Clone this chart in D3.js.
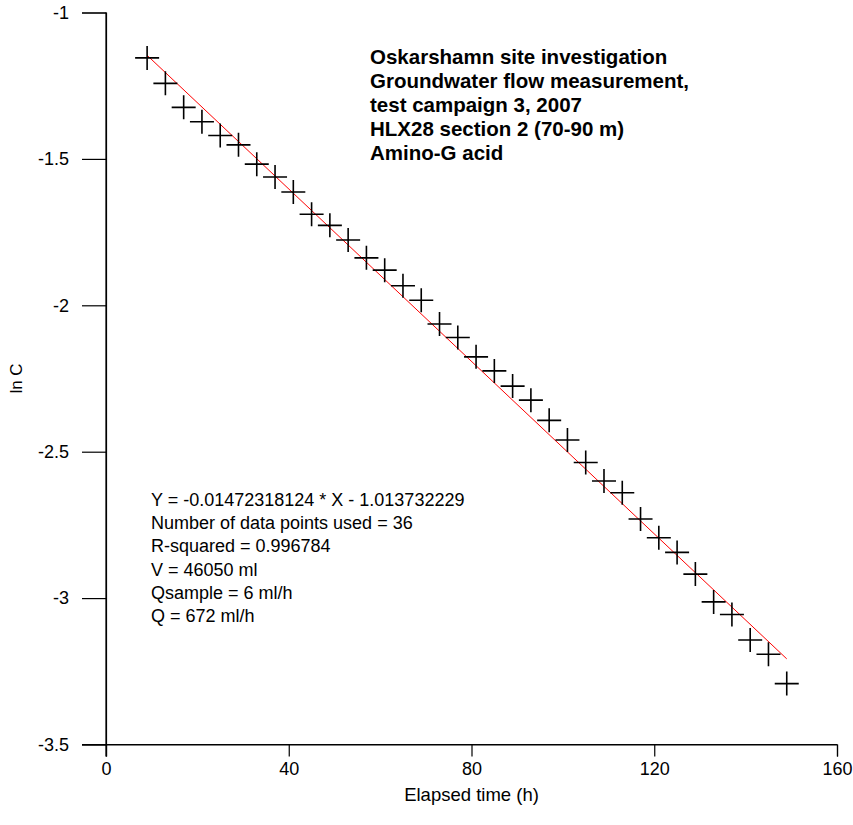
<!DOCTYPE html>
<html><head><meta charset="utf-8">
<script src="https://cdn.jsdelivr.net/npm/d3@7"></script>
<style>
body{margin:0;background:#fff}
svg{display:block}
text{font-family:"Liberation Sans",Arial,sans-serif;fill:#000}
</style>
</head><body>
<script>
// ---- data ----
const elapsedHours = [9,13,17,21,25,29,33,37,41,45,49,53,57,61,65,69,73,77,81,85,89,93,97,101,105,109,113,117,121,125,129,133,137,141,145,149];
const lnC = [-1.155,-1.242,-1.324,-1.373,-1.420,-1.452,-1.518,-1.562,-1.613,-1.689,-1.727,-1.777,-1.838,-1.880,-1.933,-1.983,-2.064,-2.110,-2.176,-2.224,-2.276,-2.324,-2.393,-2.460,-2.537,-2.600,-2.640,-2.730,-2.794,-2.844,-2.918,-3.013,-3.056,-3.143,-3.192,-3.292];
const fitSlope = -0.01472318124;
const fitIntercept = -1.013732229;
const fitRange = [9,149];
const xMajorTicks = [0,40,80,120,160];
const xMinorTicks = [20,60,100,140];
const yMajorTicks = [-1,-1.5,-2,-2.5,-3,-3.5];
const yMinorTicks = [-1.25,-1.75,-2.25,-2.75,-3.25];
const titleLines = ["Oskarshamn site investigation","Groundwater flow measurement,","test campaign 3, 2007","HLX28 section 2 (70-90 m)","Amino-G acid"];
const statsLines = ["Y = -0.01472318124 * X - 1.013732229","Number of data points used = 36","R-squared = 0.996784","V = 46050 ml","Qsample = 6 ml/h","Q = 672 ml/h"];
const xLabel = "Elapsed time (h)";
const yLabel = "ln C";

// ---- layout ----
const W = 853, H = 825;
const svg = d3.select("body").append("svg").attr("width",W).attr("height",H);
const x = d3.scaleLinear().domain([0,160]).range([106,837]);
const y = d3.scaleLinear().domain([-3.5,-1]).range([744.5,12.5]);
const fmt = d => String(d);

// axes
const gx = svg.append("g").attr("transform",`translate(0,${y(-3.5)})`);
gx.call(d3.axisBottom(x).tickValues(xMinorTicks).tickSize(6).tickFormat(""));
gx.call(d3.axisBottom(x).tickValues(xMajorTicks).tickSize(12).tickPadding(6).tickFormat(fmt));
const gy = svg.append("g").attr("transform",`translate(${x(0)},0)`);
gy.call(d3.axisLeft(y).tickValues(yMinorTicks).tickSize(12).tickFormat(""));
gy.call(d3.axisLeft(y).tickValues(yMajorTicks).tickSize(24).tickPadding(13).tickFormat(fmt));
svg.selectAll(".domain").attr("stroke","#000").attr("stroke-width",1.2);
svg.selectAll(".tick line").attr("stroke","#000").attr("stroke-width",1.2);
svg.selectAll(".tick text").style("font-size","18px").attr("font-family",null);
// extend x axis line left to meet the -3.5 tick, y axis line down to the 0 tick
svg.append("line").attr("x1",x(0)-24).attr("x2",x(160)).attr("y1",y(-3.5)).attr("y2",y(-3.5)).attr("stroke","#000").attr("stroke-width",1.2);
svg.append("line").attr("x1",x(0)).attr("x2",x(0)).attr("y1",y(-1)).attr("y2",y(-3.5)+12).attr("stroke","#000").attr("stroke-width",1.2);

// axis titles
svg.append("text").attr("x",(x(0)+x(160))/2).attr("y",801).attr("text-anchor","middle").style("font-size","18.5px").text(xLabel);
svg.append("text").attr("transform",`translate(22,${y(-2.25)}) rotate(-90)`).attr("text-anchor","middle").style("font-size","17px").text(yLabel);

// fit line
const line = d3.line().x(d=>x(d)).y(d=>y(fitSlope*d+fitIntercept));
svg.append("path").datum(fitRange).attr("d",line).attr("stroke","#ff0000").attr("stroke-width",1).attr("fill","none");

// markers (plus)
const pts = elapsedHours.map((h,i)=>({h,v:lnC[i]}));
const arm = 12;
const g = svg.append("g").attr("stroke","#000").attr("stroke-width",1.6);
g.selectAll("path.m").data(pts).join("path").attr("class","m")
  .attr("d",d=>{const cx=x(d.h), cy=y(d.v);return `M${cx-arm},${cy}H${cx+arm}M${cx},${cy-arm}V${cy+arm}`;});

// title
const tt = svg.append("text").attr("x",370).attr("y",64).style("font-size","20.5px").style("font-weight","bold");
titleLines.forEach((t,i)=>tt.append("tspan").attr("x",370).attr("dy",i?24:0).text(t));

// stats
const st = svg.append("text").attr("x",151).attr("y",506).style("font-size","18px");
statsLines.forEach((t,i)=>st.append("tspan").attr("x",151).attr("dy",i?23.2:0).text(t));
</script>
</body></html>
